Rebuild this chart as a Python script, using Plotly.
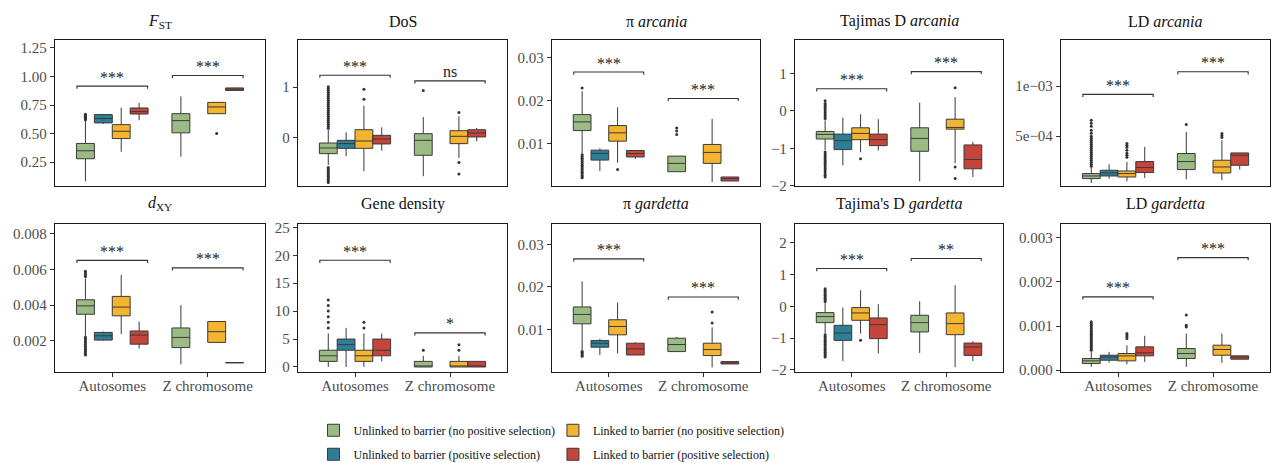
import plotly.graph_objects as go

W, H = 1277, 463
FONT = "Liberation Serif"

categories = ["Autosomes", "Z chromosome"]
groups = [
    "Unlinked to barrier (no positive selection)",
    "Unlinked to barrier (positive selection)",
    "Linked to barrier (no positive selection)",
    "Linked to barrier (positive selection)",
]
colors = ["#9BBB85", "#2E7E98", "#F4B42F", "#C6453A"]

# five-number stats per group: (lowerfence, q1, median, q3, upperfence) for [Autosomes, Z chromosome]
fst_stats = [
    [(0.08, 0.279, 0.349, 0.413, 0.61), (0.297, 0.506, 0.613, 0.674, 0.826)],
    [(0.585, 0.593, 0.631, 0.666, 0.672), None],
    [(0.34, 0.456, 0.52, 0.578, 0.727), (0.674, 0.674, 0.733, 0.773, 0.773)],
    [(0.616, 0.671, 0.692, 0.724, 0.77), (0.878, 0.878, 0.889, 0.90, 0.90)],
]
fst_out = [
    [[0.62, 0.63, 0.64, 0.645, 0.65, 0.66, 0.67], []],
    [[], []],
    [[], [0.50]],
    [[], []],
]

dos_stats = [
    [(-0.55, -0.325, -0.212, -0.113, 0.15), (-0.775, -0.358, -0.06, 0.073, 0.404)],
    [(-0.377, -0.219, -0.126, -0.06, 0.10), None],
    [(-0.675, -0.219, -0.073, 0.152, 0.63), (-0.41, -0.126, 0.02, 0.132, 0.417)],
    [(-0.265, -0.132, -0.033, 0.04, 0.2), (-0.08, 0.007, 0.086, 0.152, 0.185)],
]
dos_out = [
    [[0.18, 0.22, 0.26, 0.3, 0.34, 0.38, 0.42, 0.46, 0.5, 0.54, 0.58, 0.62, 0.66, 0.7,
      0.74, 0.78, 0.82, 0.86, 0.9, 0.94, 0.98, 1.01,
      -0.6, -0.63, -0.66, -0.69, -0.72, -0.75, -0.78, -0.81, -0.84, -0.87, -0.9], [0.934]],
    [[], []],
    [[0.76, 0.96], [0.497, -0.5, -0.73]],
    [[], []],
]

pia_stats = [
    [(0.0078, 0.0131, 0.0151, 0.01678, 0.0222), (0.0036, 0.0036, 0.00552, 0.0072, 0.0072)],
    [(0.00375, 0.00628, 0.00782, 0.00858, 0.00897), None],
    [(0.00567, 0.01065, 0.01257, 0.01425, 0.01847), (0.00122, 0.00552, 0.00805, 0.00989, 0.01579)],
    [(0.0066, 0.007, 0.0078, 0.0085, 0.0086), (0.00146, 0.00146, 0.002, 0.00238, 0.00238)],
]
pia_out = [
    [[0.0229, 0.0075, 0.0071, 0.0067, 0.0063, 0.0059, 0.0055, 0.0051, 0.0047, 0.0043,
      0.0039, 0.0035, 0.0031, 0.0027, 0.0024, 0.0022], [0.0122, 0.013, 0.0137]],
    [[], []],
    [[0.0041], []],
    [[], []],
]

tda_stats = [
    [(-1.05, -0.752, -0.628, -0.549, -0.25), (-1.885, -1.08, -0.735, -0.451, 0.221)],
    [(-1.46, -1.035, -0.796, -0.62, -0.177), None],
    [(-1.106, -0.77, -0.602, -0.451, -0.088), (-1.4, -0.487, -0.442, -0.221, 0.372)],
    [(-1.06, -0.929, -0.77, -0.62, -0.221), (-1.77, -1.549, -1.3, -0.91, -0.823)],
]
tda_out = [
    [[-0.2, -0.15, -0.1, -0.05, 0.0, 0.05, 0.1, 0.15, 0.2, 0.27,
      -1.1, -1.15, -1.2, -1.25, -1.3, -1.35, -1.4, -1.45, -1.5, -1.55, -1.6, -1.66, -1.72, -1.77], []],
    [[], []],
    [[-1.28], [0.62, -1.5, -1.81]],
    [[], []],
]

lda_stats = [
    [(0.000033, 0.000077, 0.000103, 0.000127, 0.00019), (0.00007, 0.000167, 0.000247, 0.000327, 0.000543)],
    [(0.000077, 0.000103, 0.000133, 0.00016, 0.00022), None],
    [(0.00005, 0.000093, 0.000127, 0.000153, 0.000243), (0.00006, 0.000133, 0.000193, 0.00026, 0.00046)],
    [(0.000083, 0.000137, 0.000187, 0.000247, 0.000393), (0.000167, 0.00021, 0.00031, 0.000333, 0.000333)],
]
lda_out = [
    [[0.0002, 0.00022, 0.00024, 0.00026, 0.00028, 0.0003, 0.00032, 0.00034, 0.00036, 0.00038,
      0.0004, 0.00042, 0.00044, 0.00046, 0.00048, 0.0005, 0.00053, 0.00056, 0.0006, 0.00063, 0.00066], [0.000617]],
    [[], []],
    [[0.00029, 0.00031, 0.00033, 0.00036, 0.00039, 0.00041, 0.000427], [0.000487, 0.000507, 0.000527]],
    [[], []],
]

dxy_stats = [
    [(0.00227, 0.00349, 0.00396, 0.0043, 0.0055), (0.00068, 0.00162, 0.00219, 0.00272, 0.004)],
    [(0.002, 0.00204, 0.00228, 0.00247, 0.00252), None],
    [(0.00238, 0.0034, 0.00389, 0.00449, 0.0057), (0.00191, 0.00191, 0.00251, 0.00308, 0.00308)],
    [(0.00157, 0.00181, 0.00232, 0.00255, 0.00308), (0.00076, 0.00077, 0.00077, 0.00078, 0.00078)],
]
dxy_out = [
    [[0.0056, 0.0057, 0.0058, 0.0059, 0.0022, 0.0021, 0.002, 0.0019, 0.0018, 0.0017, 0.0016,
      0.0015, 0.0014, 0.0013, 0.0012], []],
    [[], []],
    [[], []],
    [[], []],
]

gd_stats = [
    [(0, 1, 2, 3, 6), (0, 0, 0, 1, 2)],
    [(0, 3, 4, 5, 7), None],
    [(0, 1, 2, 3, 6), (0, 0, 0, 1, 2)],
    [(1, 2, 3, 5, 6), (0, 0, 0, 1, 1)],
]
gd_out = [
    [[7, 8, 9, 10, 11, 12], [3]],
    [[], []],
    [[7, 8], [3, 4]],
    [[], []],
]

pig_stats = [
    [(0.005, 0.01134, 0.01354, 0.0153, 0.0213), (0.0048, 0.0048, 0.00646, 0.00795, 0.0082)],
    [(0.004, 0.00583, 0.00677, 0.0074, 0.0078), None],
    [(0.0044, 0.00874, 0.01071, 0.01228, 0.0163), (0.0011, 0.00386, 0.00528, 0.00677, 0.0105)],
    [(0.0039, 0.004, 0.00543, 0.00677, 0.007), (0.00189, 0.00189, 0.00213, 0.00244, 0.00244)],
]
pig_out = [
    [[0.0048, 0.0046, 0.0043, 0.004, 0.0037], []],
    [[], []],
    [[], [0.0115, 0.0141]],
    [[], []],
]

tdg_stats = [
    [(-0.85, -0.516, -0.326, -0.2, 0.1), (-1.47, -0.81, -0.516, -0.284, 0.158)],
    [(-1.726, -1.074, -0.842, -0.6, -0.042), None],
    [(-0.863, -0.442, -0.21, -0.042, 0.505), (-1.916, -0.895, -0.547, -0.21, 0.663)],
    [(-1.49, -1.02, -0.579, -0.368, 0.063), (-1.726, -1.547, -1.284, -1.158, -1.1)],
]
tdg_out = [
    [[0.15, 0.2, 0.25, 0.3, 0.35, 0.4, 0.45, 0.5, 0.55,
      -0.9, -0.95, -1.0, -1.05, -1.1, -1.15, -1.2, -1.25, -1.3, -1.35, -1.4, -1.45, -1.5, -1.55, -1.6], []],
    [[], []],
    [[-1.074], []],
    [[], []],
]

ldg_stats = [
    [(0.000076, 0.000151, 0.000212, 0.000265, 0.00042), (0.000076, 0.000265, 0.000378, 0.000491, 0.000831)],
    [(0.000174, 0.000227, 0.0003, 0.00034, 0.000416), None],
    [(0.000136, 0.000212, 0.000325, 0.000378, 0.000567), (0.000166, 0.00034, 0.000469, 0.000567, 0.000831)],
    [(0.000189, 0.000325, 0.000393, 0.000529, 0.000779), (0.00025, 0.00025, 0.000295, 0.000325, 0.000325)],
]
ldg_out = [
    [[0.00045, 0.00048, 0.00051, 0.00054, 0.00057, 0.0006, 0.00063, 0.00066, 0.00069, 0.00072,
      0.00075, 0.00078, 0.00081, 0.00084, 0.00087, 0.0009, 0.00094, 0.00098, 0.00102, 0.00106, 0.0011], [0.00098, 0.00102, 0.00125]],
    [[], []],
    [[0.00072, 0.00076, 0.0008, 0.00083], []],
    [[], []],
]

# significance brackets: y position per category and label
sig_y = {
    "fst": [0.916, 1.009], "dos": [1.238, 1.126], "pia": [0.0266, 0.0205], "tda": [0.593, 1.053],
    "lda": [0.000917, 0.001143], "dxy": [0.00651, 0.00609], "gd": [19.1, 6.1], "pig": [0.0266, 0.01764],
    "tdg": [1.19, 1.505], "ldg": [0.00166, 0.00255],
}
sig_label = {
    "fst": ["***", "***"], "dos": ["***", "ns"], "pia": ["***", "***"], "tda": ["***", "***"],
    "lda": ["***", "***"], "dxy": ["***", "***"], "gd": ["***", "*"], "pig": ["***", "***"],
    "tdg": ["***", "**"], "ldg": ["***", "***"],
}

panels = [
    dict(key="fst", title="<i>F</i><sub>ST</sub>", stats=fst_stats, out=fst_out, rng=[0.04, 1.32],
         tv=[0.25, 0.5, 0.75, 1.0, 1.25], tt=["0.25", "0.50", "0.75", "1.00", "1.25"]),
    dict(key="dos", title="DoS", stats=dos_stats, out=dos_out, rng=[-0.97, 1.94],
         tv=[0, 1], tt=["0", "1"]),
    dict(key="pia", title="π <i>arcania</i>", stats=pia_stats, out=pia_out, rng=[0.0003, 0.034],
         tv=[0.01, 0.02, 0.03], tt=["0.01", "0.02", "0.03"]),
    dict(key="tda", title="Tajimas D <i>arcania</i>", stats=tda_stats, out=tda_out, rng=[-2.01, 1.9],
         tv=[-2, -1, 0, 1], tt=["−2", "−1", "0", "1"]),
    dict(key="lda", title="LD <i>arcania</i>", stats=lda_stats, out=lda_out, rng=[0.000003, 0.00146],
         tv=[0.0005, 0.001], tt=["5e−04", "1e−03"]),
    dict(key="dxy", title="<i>d</i><sub>XY</sub>", stats=dxy_stats, out=dxy_out, rng=[0.00025, 0.00855],
         tv=[0.002, 0.004, 0.006, 0.008], tt=["0.002", "0.004", "0.006", "0.008"]),
    dict(key="gd", title="Gene density", stats=gd_stats, out=gd_out, rng=[-0.9, 25.6],
         tv=[0, 5, 10, 15, 20, 25], tt=["0", "5", "10", "15", "20", "25"]),
    dict(key="pig", title="π <i>gardetta</i>", stats=pig_stats, out=pig_out, rng=[0.0, 0.0348],
         tv=[0.01, 0.02, 0.03], tt=["0.01", "0.02", "0.03"]),
    dict(key="tdg", title="Tajima's D <i>gardetta</i>", stats=tdg_stats, out=tdg_out, rng=[-2.07, 2.59],
         tv=[-2, -1, 0, 1, 2], tt=["−2", "−1", "0", "1", "2"]),
    dict(key="ldg", title="LD <i>gardetta</i>", stats=ldg_stats, out=ldg_out, rng=[-0.00004, 0.00331],
         tv=[0.0, 0.001, 0.002, 0.003], tt=["0.000", "0.001", "0.002", "0.003"]),
]

# panel pixel boxes (left, right) per column and (top, bottom) per row
col_px = [(55, 265), (298, 507), (552, 760), (795, 1003), (1061, 1270)]
row_px = [(40, 186), (224, 372)]
title_px = [21, 204]

fig = go.Figure()
layout_axes = {}
shapes = []
annotations = []

for p, pan in enumerate(panels):
    r, c = divmod(p, 5)
    n = "" if p == 0 else str(p + 1)
    xa, ya = "x" + n, "y" + n
    l, rr = col_px[c]
    t, b = row_px[r]
    bottom_row = (r == 1)
    layout_axes["xaxis" + n] = dict(
        domain=[l / W, rr / W], anchor=ya, type="category",
        categoryorder="array", categoryarray=categories, range=[-0.6, 1.6],
        showline=True, mirror=True, linecolor="#1a1a1a", linewidth=1.3,
        showgrid=False, zeroline=False,
        ticks="outside" if bottom_row else "", ticklen=4, tickcolor="#333333",
        showticklabels=bottom_row, ticklabelstandoff=-4,
        tickfont=dict(family=FONT, size=15, color="#4D4D4D"),
    )
    layout_axes["yaxis" + n] = dict(
        domain=[1 - b / H, 1 - t / H], anchor=xa, range=pan["rng"],
        tickvals=pan["tv"], ticktext=pan["tt"],
        showline=True, mirror=True, linecolor="#1a1a1a", linewidth=1.3,
        showgrid=False, zeroline=False, ticks="outside", ticklen=4, tickcolor="#333333",
        tickfont=dict(family=FONT, size=15, color="#4D4D4D"),
    )
    for g in range(4):
        present = [ci for ci in range(2) if pan["stats"][g][ci] is not None]
        # box with sample points listed first
        present.sort(key=lambda ci: -len(pan["out"][g][ci]))
        xs, lf, q1, md, q3, uf, ys = [], [], [], [], [], [], []
        for ci in present:
            s = pan["stats"][g][ci]
            xs.append(categories[ci])
            lf.append(s[0]); q1.append(s[1]); md.append(s[2]); q3.append(s[3]); uf.append(s[4])
            ys.append(pan["out"][g][ci])
        has_pts = any(len(v) > 0 for v in ys)
        fig.add_trace(go.Box(
            x=xs, y=ys if has_pts else None,
            lowerfence=lf, q1=q1, median=md, q3=q3, upperfence=uf,
            name=groups[g], legendgroup=groups[g], showlegend=(p == 0),
            legend="legend" if g in (0, 1) else "legend2",
            alignmentgroup="p" + str(p), offsetgroup="g" + str(g),
            fillcolor=colors[g], line=dict(color="#3a3a3a", width=1),
            marker=dict(color="#333333", size=3),
            boxpoints="outliers" if has_pts else False, jitter=0, pointpos=0, whiskerwidth=0,
            xaxis=xa, yaxis=ya, hoverinfo="skip",
        ))
    span = pan["rng"][1] - pan["rng"][0]
    for ci in range(2):
        yv = sig_y[pan["key"]][ci]
        d = span * 0.018
        x0, x1 = ci - 0.37, ci + 0.37
        shapes.append(dict(
            type="path", xref=xa, yref=ya,
            path=f"M {x0},{yv - d} L {x0},{yv} L {x1},{yv} L {x1},{yv - d}",
            line=dict(color="#333333", width=1.1),
        ))
        annotations.append(dict(
            x=ci, y=yv, xref=xa, yref=ya, text=sig_label[pan["key"]][ci], showarrow=False,
            yanchor="middle", yshift=9, font=dict(family=FONT, size=16, color="#222222"),
        ))
    annotations.append(dict(
        x=(l + rr) / 2 / W, y=1 - title_px[r] / H, xref="paper", yref="paper",
        text=pan["title"], showarrow=False, xanchor="center", yanchor="middle",
        font=dict(family=FONT, size=16, color="#111111"),
    ))

fig.update_layout(
    width=W, height=H, margin=dict(l=0, r=0, t=0, b=0, autoexpand=False),
    paper_bgcolor="white", plot_bgcolor="white",
    boxmode="group", boxgap=0.25, boxgroupgap=0,
    shapes=shapes, annotations=annotations,
    font=dict(family=FONT),
    legend=dict(x=0.2455, y=0.102, xanchor="left", yanchor="top", orientation="v",
                tracegroupgap=5, font=dict(family=FONT, size=12, color="#111111"),
                bgcolor="rgba(0,0,0,0)"),
    legend2=dict(x=0.433, y=0.102, xanchor="left", yanchor="top", orientation="v",
                 tracegroupgap=5, font=dict(family=FONT, size=12, color="#111111"),
                 bgcolor="rgba(0,0,0,0)"),
    **layout_axes,
)

fig.write_html("out.html", config={"displayModeBar": False},
               post_script="document.body.style.margin='0';")
